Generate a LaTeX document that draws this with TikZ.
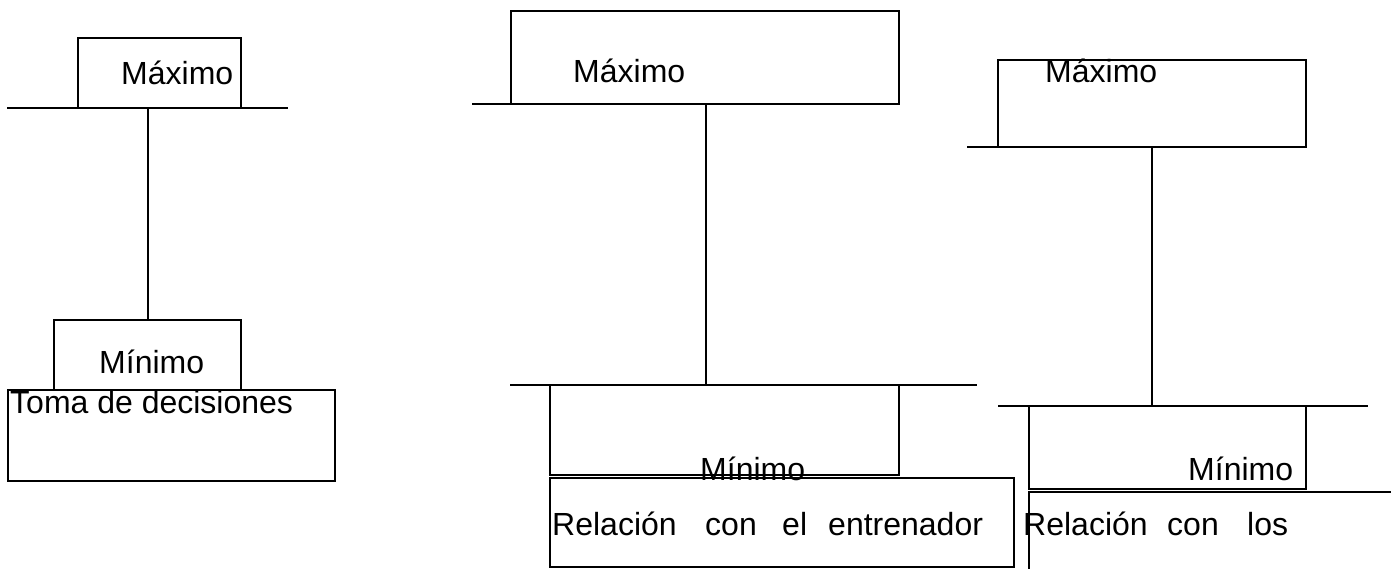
\documentclass[tikz,border=0pt]{standalone}
\usepackage{fontspec}
\setmainfont{Liberation Sans}
\begin{document}
\begin{tikzpicture}[x=1pt,y=-1pt,
  box/.style={draw,line width=1.5pt,inner sep=0pt,outer sep=0pt,anchor=north west},
  ln/.style={line width=1.5pt},
  txt/.style={inner sep=0pt,anchor=base west,font=\fontsize{32}{38}\selectfont}]
\clip (0,0) rectangle (1391,569);
\fill[white] (0,0) rectangle (1391,569);
% ---- panel 1
\node[box,minimum width=163pt,minimum height=70pt] (max1) at (78,38) {};
\node[box,minimum width=187pt,minimum height=70pt] (min1) at (54,320) {};
\node[box,minimum width=327pt,minimum height=91pt] (td) at (8,390) {};
\coordinate (h1a) at (7,108);
\coordinate (h1b) at (288,108);
\draw[ln] (h1a) -- (h1b);
\draw[ln] (max1.south -| 148,0) -- (min1.north -| 148,0);
\node[txt] (tmax1) at (121,85) {Máximo};
\node[txt] (tmin1) at (99,373) {Mínimo};
\node[txt] (ttd) at (10,413) {Toma de decisiones};
% ---- panel 2
\node[box,minimum width=388pt,minimum height=93pt] (max2) at (511,11) {};
\coordinate (h2a) at (472,104);
\draw[ln] (h2a) -- (max2.south west);
\coordinate (h2b) at (510,385);
\coordinate (h2c) at (977,385);
\draw[ln] (h2b) -- (h2c);
\node[box,minimum width=349pt,minimum height=90pt] (min2) at (550,385) {};
\node[box,minimum width=464pt,minimum height=89pt] (rel2) at (550,478) {};
\draw[ln] (max2.south -| 706,0) -- (min2.north -| 706,0);
\node[txt] (tmax2) at (573,83) {Máximo};
\node[txt] (tmin2) at (700,480) {Mínimo};
\node[txt] (trel2a) at (552,535) {Relación};
\node[txt] (trel2b) at (705,535) {con};
\node[txt] (trel2c) at (782,535) {el};
\node[txt] (trel2d) at (828,535) {entrenador};
% ---- panel 3
\node[box,minimum width=308pt,minimum height=87pt] (max3) at (998,60) {};
\coordinate (h3a) at (967,147);
\draw[ln] (h3a) -- (max3.south west);
\coordinate (h3b) at (998,406);
\coordinate (h3c) at (1368,406);
\draw[ln] (h3b) -- (h3c);
\node[box,minimum width=277pt,minimum height=83pt] (min3) at (1029,406) {};
\node[box,minimum width=420pt,minimum height=120pt] (rel3) at (1029,492) {};
\draw[ln] (max3.south -| 1152,0) -- (min3.north -| 1152,0);
\node[txt] (tmax3) at (1045,83) {Máximo};
\node[txt] (tmin3) at (1188,480) {Mínimo};
\node[txt] (trel3a) at (1023,535) {Relación};
\node[txt] (trel3b) at (1167,535) {con};
\node[txt] (trel3c) at (1247,535) {los};
\end{tikzpicture}
\end{document}
